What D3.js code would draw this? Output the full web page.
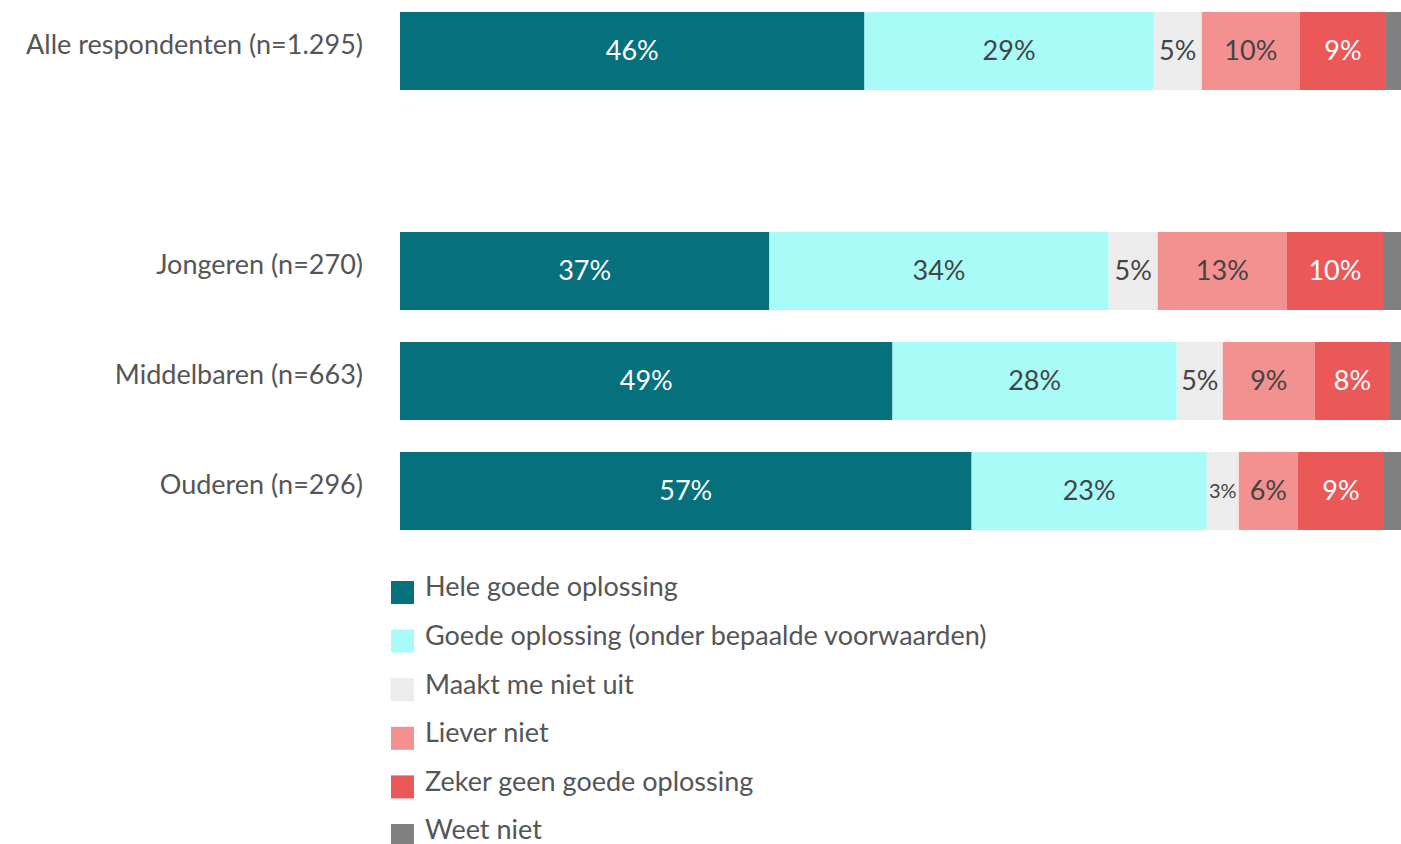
<!DOCTYPE html>
<html>
<head>
<meta charset="utf-8">
<script src="https://cdn.jsdelivr.net/npm/d3@7"></script>
<style>
  body { margin: 0; background: #fff; }
  svg text { font-family: Lato, "Open Sans", sans-serif; }
</style>
</head>
<body>
<svg id="chart"></svg>
<script>
// rows of the chart
const groups = ['Alle respondenten (n=1.295)', 'Jongeren (n=270)', 'Middelbaren (n=663)', 'Ouderen (n=296)']
const answers = ['Hele goede oplossing', 'Goede oplossing (onder bepaalde voorwaarden)', 'Maakt me niet uit',
    'Liever niet', 'Zeker geen goede oplossing', 'Weet niet']
const colors = ['#06707c', '#a8fbf7', '#ececec', '#f39090', '#eb5858', '#808080']

// percentages per group, one array per answer
const heleGoed = [46.4, 36.9, 49.2, 57.1]
const goed = [28.9, 33.9, 28.4, 23.5]
const maaktNiet = [4.8, 4.9, 4.6, 3.2]
const lieverNiet = [9.8, 12.9, 9.2, 5.9]
const zekerGeen = [8.6, 9.6, 7.5, 8.6]
const weetNiet = [1.5, 1.8, 1.1, 1.7]

const series = [heleGoed, goed, maaktNiet, lieverNiet, zekerGeen, weetNiet]
const labelColor = ['#fff', '#444', '#444', '#444', '#fff', null]

let rows = groups.map((g, i) => {
    let row = {group: g}
    answers.forEach((a, j) => row[a] = series[j][i])
    return row
})

const width = 1401, height = 844
const svg = d3.select('svg#chart').attr('width', width).attr('height', height)

let x = d3.scaleLinear().domain([0, 100]).range([400, 1401])
// the first row sits apart from the others
let yPos = [12, 232, 342, 452]
let barH = 78

let stacked = d3.stack().keys(answers)(rows)

let layers = svg.selectAll('g.layer')
    .data(stacked)
    .enter()
    .append('g')
    .attr('class', 'layer')
    .attr('fill', (d, i) => colors[i])

layers.selectAll('rect')
    .data(d => d)
    .enter()
    .append('rect')
    .attr('x', d => x(d[0]))
    .attr('y', (d, i) => yPos[i])
    .attr('width', d => x(d[1]) - x(d[0]))
    .attr('height', barH)

// value labels, skip "weet niet"
layers.each(function(layer, k) {
    if (!labelColor[k]) return
    d3.select(this).selectAll('text')
        .data(layer)
        .enter()
        .append('text')
        .attr('x', d => (x(d[0]) + x(d[1])) / 2)
        .attr('y', (d, i) => yPos[i] + barH / 2)
        .attr('dy', '0.35em')
        .attr('text-anchor', 'middle')
        .attr('fill', labelColor[k])
        .attr('font-size', d => (d[1] - d[0]) < 4 ? 20 : 27)
        .text(d => Math.round(d[1] - d[0]) + '%')
})

// group names
svg.selectAll('text.group')
    .data(groups)
    .enter()
    .append('text')
    .attr('class', 'group')
    .attr('x', 363)
    .attr('y', (d, i) => yPos[i] + 33)
    .attr('dy', '0.35em')
    .attr('text-anchor', 'end')
    .attr('fill', '#555')
    .attr('font-size', 27)
    .text(d => d)

// legend
let legend = svg.selectAll('g.legend')
    .data(answers)
    .enter()
    .append('g')
    .attr('class', 'legend')
    .attr('transform', (d, i) => `translate(391, ${581 + i * 48.6})`)

legend.append('rect')
    .attr('width', 23)
    .attr('height', 23)
    .attr('fill', (d, i) => colors[i])

legend.append('text')
    .attr('x', 34)
    .attr('y', 6)
    .attr('dy', '0.35em')
    .attr('fill', '#555')
    .attr('font-size', 27)
    .text(d => d)
</script>
</body>
</html>
